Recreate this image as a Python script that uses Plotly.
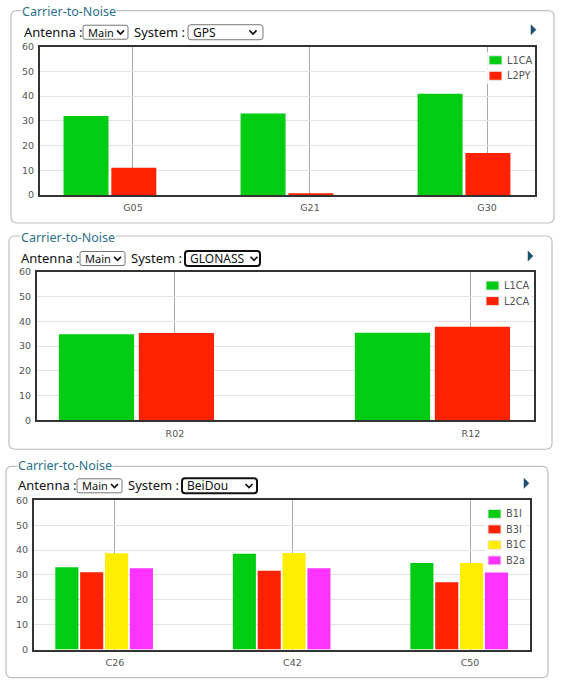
import plotly.graph_objects as go

# -----------------------------------
# Data
# -----------------------------------
gps_sats = ['G05', 'G21', 'G30']
gps_l1ca = [32, 33, 41]
gps_l2py = [11, 0.7, 17]

glo_sats = ['R02', 'R12']
glo_l1ca = [34.8, 35.4]
glo_l2ca = [35.3, 37.8]

bds_sats = ['C26', 'C42', 'C50']
bds_b1i = [33.1, 38.5, 34.8]
bds_b3i = [31.1, 31.7, 27.1]
bds_b1c = [38.7, 38.8, 34.8]
bds_b2a = [32.7, 32.7, 31.0]

systems = ['GPS', 'GLONASS', 'BeiDou']

W, H = 574, 699
GREEN, RED, YELLOW, MAGENTA = '#00cc11', '#ff2200', '#ffee00', '#ff33ff'
TEAL = '#2b6f8c'
TICK_FONT = dict(family='DejaVu Sans', size=9.5, color='#555555')
UI_FONT = 'Noto Sans'

# the photographed page came out slightly squashed vertically, compensate
Y_OFF, Y_SCALE = 5.3, 0.983


def px(x):
    return x / W


def py(y):
    return 1 - ((y - Y_OFF) / Y_SCALE) / H


fig = go.Figure()

# -----------------------------------
# bars (each panel has its own axes)
# -----------------------------------
panels = [
    # (sats, series, names, colors, width, offsets)
    (gps_sats, [gps_l1ca, gps_l2py], ['L1CA', 'L2PY'], [GREEN, RED], 0.254, [-0.392, -0.122]),
    (glo_sats, [glo_l1ca, glo_l2ca], ['L1CA', 'L2CA'], [GREEN, RED], 0.254, [-0.392, -0.122]),
    (bds_sats, [bds_b1i, bds_b3i, bds_b1c, bds_b2a], ['B1I', 'B3I', 'B1C', 'B2a'],
     [GREEN, RED, YELLOW, MAGENTA], 0.13, [-0.336, -0.196, -0.056, 0.084]),
]

for i, (sats, series, names, colors, w, offs) in enumerate(panels):
    suffix = '' if i == 0 else str(i + 1)
    for vals, name, col, off in zip(series, names, colors, offs):
        fig.add_trace(go.Bar(
            x=sats, y=vals, name=name,
            marker=dict(color=col, line=dict(width=0)),
            width=w, offset=off,
            xaxis='x' + suffix, yaxis='y' + suffix,
            hoverinfo='x+y+name',
        ))

# plot-area boxes in page pixels: left, top, right, bottom, x range
plot_boxes = [
    (40, 46, 535, 194, [-0.525, 2.271]),
    (37, 271, 534, 419, [-0.466, 1.213]),
    (34, 499, 530, 648, [-0.456, 2.338]),
]

layout = dict(
    width=W, height=H,
    margin=dict(l=0, r=0, t=0, b=0),
    paper_bgcolor='white', plot_bgcolor='white',
    barmode='overlay',
    showlegend=False,
)

for i, (l, t, r, b, xr) in enumerate(plot_boxes):
    suffix = '' if i == 0 else str(i + 1)
    layout['xaxis' + suffix] = dict(
        domain=[px(l), px(r)], anchor='y' + suffix, type='category',
        range=xr, showgrid=True, gridcolor='#a9a9a9', gridwidth=1,
        showline=True, mirror=True, linecolor='#333333', linewidth=2,
        ticks='outside', ticklen=3, tickcolor='rgba(0,0,0,0)',
        tickfont=TICK_FONT, fixedrange=True,
    )
    layout['yaxis' + suffix] = dict(
        domain=[py(b), py(t)], anchor='x' + suffix,
        range=[0, 60], dtick=10, showgrid=True, gridcolor='#e3e3e3',
        zeroline=False, showline=True, mirror=True,
        linecolor='#333333', linewidth=2,
        ticks='outside', ticklen=2, tickcolor='rgba(0,0,0,0)',
        tickfont=TICK_FONT, fixedrange=True,
    )

fig.update_layout(**layout)

shapes = []
annotations = []

# -----------------------------------
# flot-style legends in the top-right corner of each plot
# -----------------------------------
legend_left = [489, 486, 488]
for i, (sats, series, names, colors, w, offs) in enumerate(panels):
    l, t, r, b, xr = plot_boxes[i]
    x0 = legend_left[i]
    first = t + 13.5
    step = 15.5
    last = first + step * (len(names) - 1)
    shapes.append(dict(type='rect', xref='paper', yref='paper', layer='above',
                       x0=px(x0 - 3), x1=px(r - 3), y0=py(first - 8), y1=py(last + 8),
                       fillcolor='rgba(255,255,255,0.85)', line=dict(width=0)))
    for k, (name, col) in enumerate(zip(names, colors)):
        cy = first + step * k
        shapes.append(dict(type='rect', xref='paper', yref='paper', layer='above',
                           x0=px(x0), x1=px(x0 + 13), y0=py(cy - 4.5), y1=py(cy + 4.5),
                           fillcolor=col, line=dict(color='#e8e8e8', width=1)))
        annotations.append(dict(text=name, x=px(x0 + 16), y=py(cy),
                                xref='paper', yref='paper', xanchor='left', yanchor='middle',
                                showarrow=False,
                                font=dict(family='DejaVu Sans', size=9.8, color='#545454')))

# -----------------------------------
# fieldset frames, header rows and dropdowns (page decoration)
# -----------------------------------
frames = [(11, 10, 554, 222), (9, 235, 552, 448), (6, 465, 548, 676)]
title_pos = [(22, 11), (21, 237), (18, 464)]
row_y = [31, 257, 484]
antenna_x = [23, 20, 17]
main_box = [(83, 128), (80, 125), (77, 122)]
system_x = [133, 130, 127]
sys_box = [(188, 263), (185, 260), (182, 257)]
sys_chev = [253, 254, 249]
arrow_pos = [(531, 29), (528, 255), (524, 482)]


def rounded_rect(x0, y0, x1, y1, rad):
    X0, X1 = px(x0), px(x1)
    Y0, Y1 = py(y0), py(y1)
    rx, ry = rad / W, rad / H
    return (f'M {X0 + rx},{Y0} L {X1 - rx},{Y0} Q {X1},{Y0} {X1},{Y0 - ry} '
            f'L {X1},{Y1 + ry} Q {X1},{Y1} {X1 - rx},{Y1} '
            f'L {X0 + rx},{Y1} Q {X0},{Y1} {X0},{Y1 + ry} '
            f'L {X0},{Y0 - ry} Q {X0},{Y0} {X0 + rx},{Y0} Z')


def chevron(cx, cy):
    return (f'M {px(cx - 3.5)},{py(cy - 1.8)} L {px(cx)},{py(cy + 1.8)} '
            f'L {px(cx + 3.5)},{py(cy - 1.8)}')


for i in range(3):
    fl, ft, fr, fb = frames[i]
    shapes.append(dict(type='path', path=rounded_rect(fl, ft, fr, fb, 6),
                       xref='paper', yref='paper',
                       line=dict(color='#bfbfbf', width=1.2), layer='below'))
    tx, ty = title_pos[i]
    annotations.append(dict(text='Carrier-to-Noise', x=px(tx - 1), y=py(ty),
                            xref='paper', yref='paper', xanchor='left', yanchor='middle',
                            showarrow=False, bgcolor='white', borderpad=0,
                            font=dict(family=UI_FONT, size=12.5, color=TEAL)))

    ry = row_y[i]
    annotations.append(dict(text='Antenna :', x=px(antenna_x[i] - 1), y=py(ry),
                            xref='paper', yref='paper', xanchor='left', yanchor='middle',
                            showarrow=False, font=dict(family=UI_FONT, size=13, color='#111111')))
    annotations.append(dict(text='System :', x=px(system_x[i] - 1), y=py(ry),
                            xref='paper', yref='paper', xanchor='left', yanchor='middle',
                            showarrow=False, font=dict(family=UI_FONT, size=13, color='#111111')))

    # Antenna dropdown
    m0, m1 = main_box[i]
    shapes.append(dict(type='path', path=rounded_rect(m0, ry - 6.5, m1, ry + 7.5, 2),
                       xref='paper', yref='paper', line=dict(color='#767676', width=1),
                       fillcolor='white'))
    annotations.append(dict(text='Main', x=px(m0 + 3), y=py(ry + 0.5),
                            xref='paper', yref='paper', xanchor='left', yanchor='middle',
                            showarrow=False, font=dict(family=UI_FONT, size=11, color='#111111')))
    shapes.append(dict(type='path', path=chevron(m1 - 7.5, ry + 0.5), xref='paper', yref='paper',
                       line=dict(color='#111111', width=1.7)))

    # System dropdown (GLONASS / BeiDou ones have focus ring)
    s0, s1 = sys_box[i]
    focused = i > 0
    shapes.append(dict(type='path', path=rounded_rect(s0, ry - 7, s1, ry + 8, 3),
                       xref='paper', yref='paper',
                       line=dict(color='#111111' if focused else '#767676',
                                 width=2 if focused else 1),
                       fillcolor='white'))
    annotations.append(dict(text=systems[i], x=px(s0 + 3), y=py(ry + 0.5),
                            xref='paper', yref='paper', xanchor='left', yanchor='middle',
                            showarrow=False, font=dict(family=UI_FONT, size=12, color='#111111')))
    shapes.append(dict(type='path', path=chevron(sys_chev[i], ry + 0.5), xref='paper', yref='paper',
                       line=dict(color='#111111', width=1.7)))

    # little expand arrow on the right
    ax, ay = arrow_pos[i]
    shapes.append(dict(type='path',
                       path=f'M {px(ax)},{py(ay - 5)} L {px(ax + 5)},{py(ay)} L {px(ax)},{py(ay + 5)} Z',
                       xref='paper', yref='paper', fillcolor='#1d4f73',
                       line=dict(color='#1d4f73', width=0.5)))

fig.update_layout(shapes=shapes, annotations=annotations)

fig.write_html("out.html", config={'displayModeBar': False},
               post_script="document.body.style.margin='0px';document.body.style.overflow='hidden';")
